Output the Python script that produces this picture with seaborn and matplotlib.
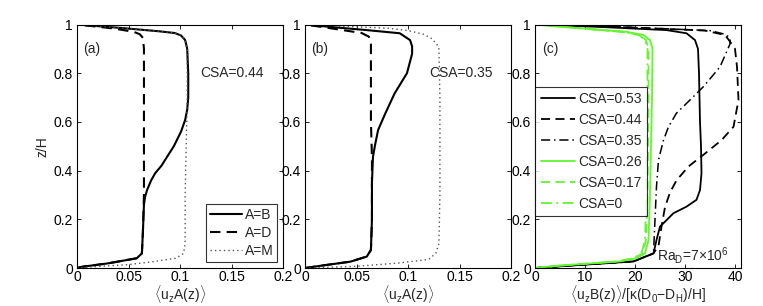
import matplotlib
matplotlib.use('Agg')

import matplotlib.pyplot as plt
import seaborn as sns
from matplotlib.ticker import FuncFormatter

# panel (a): CSA=0.44, profiles of <u_z A(z)> vs z/H
a_B_z = [0, 0.005, 0.019, 0.04, 0.06, 0.15, 0.26, 0.29, 0.32, 0.36, 0.39, 0.42, 0.457, 0.5, 0.526, 0.56, 0.608, 0.65, 0.7, 0.8, 0.9, 0.936, 0.955, 0.965, 0.972, 0.985, 1.0]
a_B_x = [0, 0.005, 0.03, 0.058, 0.063, 0.064, 0.065, 0.066, 0.068, 0.072, 0.076, 0.082, 0.0875, 0.094, 0.097, 0.101, 0.105, 0.107, 0.108, 0.108, 0.107, 0.105, 0.101, 0.095, 0.08, 0.045, 0]
a_D_z = [0, 0.005, 0.019, 0.04, 0.06, 0.15, 0.3, 0.5, 0.7, 0.9, 0.945, 0.96, 0.97, 0.984, 1.0]
a_D_x = [0, 0.005, 0.03, 0.058, 0.063, 0.064, 0.065, 0.065, 0.065, 0.065, 0.064, 0.061, 0.055, 0.035, 0]
a_M_z = [0, 0.005, 0.014, 0.025, 0.04, 0.06, 0.1, 0.3, 0.5, 0.7, 0.9, 0.936, 0.955, 0.965, 0.972, 0.985, 1.0]
a_M_x = [0, 0.016, 0.05, 0.072, 0.096, 0.1035, 0.105, 0.105, 0.106, 0.107, 0.107, 0.105, 0.101, 0.095, 0.08, 0.045, 0]

# panel (b): CSA=0.35
b_B_z = [0, 0.012, 0.026, 0.047, 0.074, 0.2, 0.35, 0.457, 0.505, 0.567, 0.635, 0.717, 0.8, 0.88, 0.91, 0.936, 0.964, 0.977, 0.988, 1.0]
b_B_x = [0, 0.02, 0.044, 0.06, 0.064, 0.065, 0.065, 0.066, 0.068, 0.071, 0.078, 0.087, 0.099, 0.104, 0.104, 0.102, 0.092, 0.06, 0.03, 0]
b_D_z = [0, 0.012, 0.026, 0.047, 0.074, 0.2, 0.35, 0.457, 0.6, 0.8, 0.93, 0.95, 0.965, 0.98, 1.0]
b_D_x = [0, 0.02, 0.044, 0.06, 0.064, 0.065, 0.065, 0.065, 0.064, 0.064, 0.064, 0.062, 0.055, 0.032, 0]
b_M_z = [0, 0.007, 0.02, 0.035, 0.06, 0.1, 0.3, 0.5, 0.7, 0.9, 0.92, 0.945, 0.96, 0.975, 0.985, 0.992, 1.0]
b_M_x = [0, 0.05, 0.09, 0.12, 0.127, 0.13, 0.131, 0.131, 0.131, 0.13, 0.128, 0.122, 0.115, 0.1, 0.08, 0.04, 0]

# panel (c): <u_z B(z)> normalised, several CSA
c53_z = [0, 0.007, 0.027, 0.06, 0.115, 0.17, 0.225, 0.252, 0.28, 0.32, 0.389, 0.5, 0.6, 0.7, 0.8, 0.9, 0.936, 0.964, 0.977, 0.99, 1.0]
c53_x = [0, 5, 19.7, 23.7, 24.3, 25, 27.7, 30.3, 32.3, 33, 33.3, 33.2, 33, 32.9, 32.8, 32.6, 32, 30.3, 26.3, 13, 0]
c44_z = [0, 0.007, 0.027, 0.06, 0.09, 0.17, 0.25, 0.31, 0.36, 0.417, 0.47, 0.525, 0.58, 0.69, 0.826, 0.9, 0.93, 0.957, 0.975, 0.99, 1.0]
c44_x = [0, 5, 19.7, 23.7, 24.7, 25.3, 26, 27, 28.3, 30.7, 34, 37.3, 39.7, 40.7, 40.4, 40, 39, 38, 34, 17, 0]
c35_z = [0, 0.007, 0.027, 0.06, 0.2, 0.335, 0.444, 0.525, 0.58, 0.636, 0.69, 0.745, 0.826, 0.92, 0.945, 0.96, 0.975, 0.99, 1.0]
c35_x = [0, 5, 19.7, 23.7, 24, 24.3, 24.7, 25.7, 26.7, 28.3, 31, 33.7, 37, 39, 39, 38, 35, 17, 0]
cg_z = [0, 0.01, 0.027, 0.04, 0.06, 0.115, 0.3, 0.5, 0.7, 0.9, 0.936, 0.957, 0.97, 0.985, 1.0]
c26_x = [0, 5, 17, 20.3, 22, 22.7, 23, 23.2, 23.4, 23.5, 23, 21.7, 18.3, 9, 0]
c17_x = [0, 5, 16.5, 19.8, 21.5, 22.2, 22.5, 22.6, 22.7, 22.7, 22.2, 21, 17.5, 8.5, 0]
c0_x = [0, 5, 16.5, 19.7, 21.3, 22, 22.3, 22.4, 22.5, 22.5, 22, 20.8, 17.3, 8.5, 0]

sns.set_style('ticks')
plt.rcParams['font.family'] = ['Liberation Sans', 'DejaVu Sans']
plt.rcParams['font.size'] = 10
plt.rcParams['mathtext.fontset'] = 'custom'
plt.rcParams['mathtext.rm'] = 'Liberation Sans'
plt.rcParams['mathtext.it'] = 'Liberation Sans'

green = '#62f530'
dash = (0, (5, 3))
dashdot = (0, (6, 2.5, 1, 2.5))
dot = (0, (1, 2.2))

fig = plt.figure(figsize=(7.63, 3.06), dpi=100)
W, H = 763.0, 306.0
bottom = 1 - 268 / H
height = (268 - 24.5) / H
ax_a = fig.add_axes([77 / W, bottom, 206 / W, height])
ax_b = fig.add_axes([305 / W, bottom, 206 / W, height])
ax_c = fig.add_axes([535 / W, bottom, 206 / W, height])

fmt = FuncFormatter(lambda v, p: '%g' % round(v, 3))


def style(ax):
    ax.set_ylim(0, 1)
    ax.set_yticks([0, 0.2, 0.4, 0.6, 0.8, 1])
    ax.yaxis.set_major_formatter(fmt)
    ax.xaxis.set_major_formatter(fmt)
    ax.tick_params(direction='in', top=True, right=True, length=3, width=0.6,
                   labelsize=10, pad=3, colors='black')
    ax.tick_params(axis='x', pad=1.5)
    for s in ax.spines.values():
        s.set_linewidth(0.8)
        s.set_color('black')


def line(ax, x, z, **kw):
    sns.lineplot(x=x, y=z, sort=False, estimator=None, ax=ax, **kw)


# (a)
line(ax_a, a_B_x, a_B_z, color='black', lw=1.5, label='A=B')
line(ax_a, a_D_x, a_D_z, color='black', lw=1.5, linestyle=dash, label='A=D')
line(ax_a, a_M_x, a_M_z, color='#555555', lw=1.0, linestyle=dot, label='A=M')
ax_a.set_xlim(0, 0.2)
ax_a.set_xticks([0, 0.05, 0.1, 0.15, 0.2])
style(ax_a)
ax_a.set_ylabel('z/H', fontsize=10, labelpad=3)
ax_a.set_xlabel(r'$\langle$u$_\mathrm{z}$A(z)$\rangle$', fontsize=10, labelpad=-1)
ax_a.text(0.03, 0.9, '(a)', transform=ax_a.transAxes, fontsize=10, va='center')
ax_a.text(0.12, 0.8, 'CSA=0.44', fontsize=10, va='center')
ax_a.legend(loc='lower right', frameon=True, fancybox=False, edgecolor='black',
            fontsize=10, handlelength=2.3, labelspacing=0.3, borderpad=0.3,
            handletextpad=0.2, borderaxespad=0.4).get_frame().set_linewidth(0.8)

# (b)
line(ax_b, b_B_x, b_B_z, color='black', lw=1.5)
line(ax_b, b_D_x, b_D_z, color='black', lw=1.5, linestyle=dash)
line(ax_b, b_M_x, b_M_z, color='#555555', lw=1.0, linestyle=dot)
ax_b.set_xlim(0, 0.2)
ax_b.set_xticks([0, 0.05, 0.1, 0.15, 0.2])
style(ax_b)
ax_b.set_ylabel('')
ax_b.set_xlabel(r'$\langle$u$_\mathrm{z}$A(z)$\rangle$', fontsize=10, labelpad=-1)
ax_b.text(0.03, 0.9, '(b)', transform=ax_b.transAxes, fontsize=10, va='center')
ax_b.text(0.121, 0.8, 'CSA=0.35', fontsize=10, va='center')

# (c)
line(ax_c, c53_x, c53_z, color='black', lw=1.3, label='CSA=0.53')
line(ax_c, c44_x, c44_z, color='black', lw=1.3, linestyle=dash, label='CSA=0.44')
line(ax_c, c35_x, c35_z, color='black', lw=1.1, linestyle=dashdot, label='CSA=0.35')
line(ax_c, c26_x, cg_z, color=green, lw=1.3, label='CSA=0.26')
line(ax_c, c17_x, cg_z, color=green, lw=1.3, linestyle=dash, label='CSA=0.17')
line(ax_c, c0_x, cg_z, color=green, lw=1.3, linestyle=dashdot, label='CSA=0')
ax_c.set_xlim(0, 41.2)
ax_c.set_xticks([0, 10, 20, 30, 40])
style(ax_c)
ax_c.set_ylabel('')
ax_c.set_xlabel(r'$\langle$u$_\mathrm{z}$B(z)$\rangle$/[$\kappa$(D$_\mathrm{0}$$-$D$_\mathrm{H}$)/H]',
                fontsize=10, labelpad=-1)
ax_c.text(0.035, 0.9, '(c)', transform=ax_c.transAxes, fontsize=10, va='center')
ax_c.text(24.5, 0.05, r'Ra$_\mathrm{D}$=7$\times$10$^\mathrm{6}$', fontsize=10, va='center')
leg = ax_c.legend(loc='upper left', bbox_to_anchor=(0.0, 0.745), frameon=True,
                  fancybox=False, edgecolor='black', fontsize=10, handlelength=2.5,
                  labelspacing=0.5, borderpad=0.4, handletextpad=0.2, borderaxespad=0)
leg.get_frame().set_linewidth(0.8)

fig.savefig('out.png', dpi=100)
